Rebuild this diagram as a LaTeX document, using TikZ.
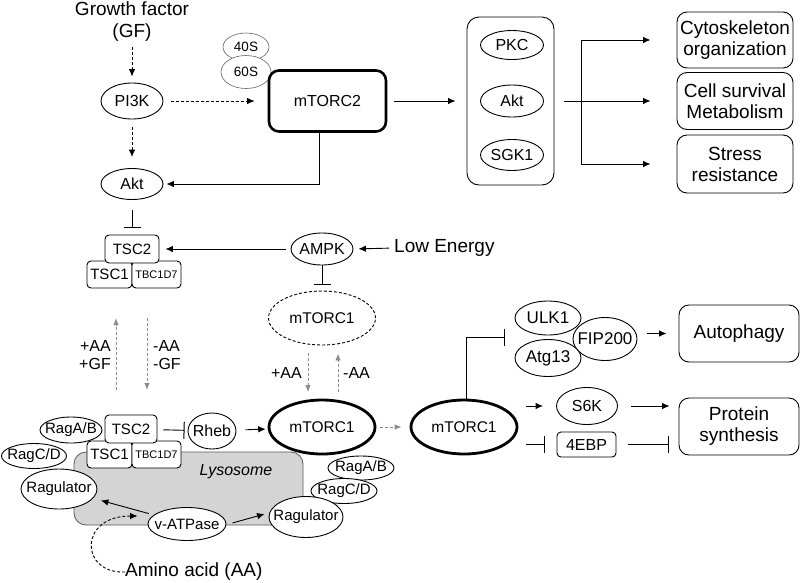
\documentclass[tikz,border=0pt]{standalone}
\usepackage{fontspec}
\setmainfont{Liberation Sans}
\usetikzlibrary{shapes.geometric,arrows.meta,calc}
\newcommand\zw[1]{\makebox[0pt]{#1}}
\definecolor{lysogray}{RGB}{212,212,212}
\definecolor{arrgray}{RGB}{140,140,140}
\begin{document}
\begin{tikzpicture}[x=1pt,y=-1pt,
  lw/.style={line width=0.9pt},
  ell/.style={ellipse,draw,line width=0.9pt,fill=white,inner sep=0pt,font=\fontsize{16}{19}\selectfont},
  ellm/.style={ell,font=\fontsize{15}{18}\selectfont},
  thk/.style={ell,line width=2.8pt,font=\fontsize{15.5}{18}\selectfont},
  smell/.style={ellipse,draw=black!60,line width=0.6pt,fill=white,inner sep=0pt,font=\fontsize{13.5}{16}\selectfont},
  rbx/.style={draw,line width=0.9pt,rounded corners=4pt,fill=white,inner sep=0pt,font=\fontsize{15}{18}\selectfont},
  bbox/.style={draw,line width=0.9pt,rounded corners=10pt,fill=white,inner sep=0pt,align=center,minimum width=116pt,font=\fontsize{19}{21}\selectfont},
  txt/.style={inner sep=0pt},
  arr/.style={line width=0.9pt,-{Latex[length=7.5pt,width=6.5pt]}},
  darr/.style={arr,dash pattern=on 3pt off 2pt},
  inh/.style={line width=0.9pt,-{Bar[width=17pt,line width=1pt]}},
  garr/.style={draw=arrgray,line width=0.9pt,dash pattern=on 3pt off 2pt,-{Latex[length=7pt,width=5.5pt]}}
]
\useasboundingbox (0,0) rectangle (800,582);

% ---------- top part ----------
\node[txt,align=center,anchor=north,font=\fontsize{19}{22}\selectfont] (gf) at (132,1.5) {Growth factor\\(GF)};
\node[ell,minimum width=62pt,minimum height=36pt] (pi3k) at (132,101) {\zw{PI3K}};
\node[ell,minimum width=62pt,minimum height=31pt] (akt1) at (132,184) {\zw{Akt}};
\node[smell,minimum width=46pt,minimum height=28pt] (s40) at (246,47) {\zw{40S}};
\node[smell,minimum width=50pt,minimum height=33pt] (s60) at (246,72) {\zw{60S}};
\node[draw,line width=2.6pt,rounded corners=10pt,fill=white,minimum width=117pt,minimum height=61pt,inner sep=0pt,font=\fontsize{16}{19}\selectfont] (m2) at (327.5,101) {mTORC2};

\node[draw,lw,rounded corners=12pt,minimum width=87pt,minimum height=168pt,inner sep=0pt] (cplx) at (510.5,101) {};
\node[ell,minimum width=63pt,minimum height=29pt] (pkc) at (512,45) {\zw{PKC}};
\node[ell,minimum width=63pt,minimum height=32pt] (akt2) at (512,101) {\zw{Akt}};
\node[ell,minimum width=63pt,minimum height=31pt] (sgk) at (512,155) {\zw{SGK1}};

\node[bbox,minimum height=56pt] (cyto) at (735,40) {Cytoskeleton\\organization};
\node[bbox,minimum height=57pt] (surv) at (735,101) {Cell survival\\Metabolism};
\node[bbox,minimum height=58pt] (stress) at (735,164) {Stress\\resistance};

\draw[darr,shorten <=5pt,shorten >=6pt] (gf) -- (pi3k);
\draw[darr,shorten <=8pt,shorten >=13pt] (pi3k) -- (m2);
\draw[darr,shorten <=8pt,shorten >=11pt] (pi3k) -- (akt1);
\draw[arr,shorten >=3pt] ([xshift=-8.5pt]m2.south) |- (akt1.east);
\draw[arr,shorten <=7pt,shorten >=11pt] (m2) -- (cplx);
\coordinate (brn) at (581,101);
\draw[arr,shorten >=26pt] ([xshift=10pt]cplx.east) -- (surv.west);
\draw[arr,shorten >=26pt] (brn) |- (cyto.west);
\draw[arr,shorten >=26pt] (brn) |- (stress.west);

% ---------- middle part ----------
\node[rbx,minimum width=45pt,minimum height=27pt] (tsc1a) at (109.5,274.5) {TSC1};
\node[rbx,minimum width=49pt,minimum height=27pt,font=\fontsize{11}{13}\selectfont] (tbca) at (156.5,274.5) {TBC1D7};
\node[rbx,minimum width=54pt,minimum height=28pt] (tsc2a) at (132,249) {TSC2};
\draw[inh,shorten <=10pt,shorten >=7pt] (akt1) -- (tsc2a);

\node[ell,minimum width=62pt,minimum height=32pt] (ampk) at (322,249) {\zw{AMPK}};
\node[txt,anchor=west,font=\fontsize{19}{22}\selectfont] (lowe) at (394,248) {Low Energy};
\draw[arr,shorten <=5pt,shorten >=5pt] (lowe.west) -- (ampk.east);
\draw[arr,shorten <=5pt,shorten >=6pt] (ampk) -- (tsc2a);

\node[ellm,dashed,dash pattern=on 3pt off 2pt,minimum width=107pt,minimum height=54pt,font=\fontsize{15.5}{18}\selectfont] (m1d) at (322,318) {\zw{mTORC1}};
\draw[inh,shorten >=6pt] (ampk) -- (m1d);

\coordinate (ga1) at (116,390);
\coordinate (ga2) at (116,318);
\coordinate (gb1) at (147,318);
\coordinate (gb2) at (147,390);
\draw[garr] (ga1) -- (ga2);
\draw[garr] (gb1) -- (gb2);
\node[txt,anchor=east,align=right,font=\fontsize{16}{18}\selectfont] (lbl1) at (111,355) {+AA\\+GF};
\node[txt,anchor=west,align=left,font=\fontsize{16}{18}\selectfont] (lbl2) at (153,355) {-AA\\-GF};

% ---------- bottom part ----------
\node[draw=black!65,line width=0.8pt,fill=lysogray,rounded corners=12pt,minimum width=229pt,minimum height=73pt,inner sep=0pt] (lyso) at (188.5,488.5) {};
\node[txt,font=\itshape\fontsize{16}{19}\selectfont] (lysot) at (236,472) {Lysosome};

\node[ellm,minimum width=65pt,minimum height=25pt] (ragcl) at (34,456) {\zw{RagC/D}};
\node[ellm,minimum width=62pt,minimum height=26pt] (ragal) at (71,430) {\zw{RagA/B}};
\node[ellm,minimum width=76pt,minimum height=40pt] (regl) at (59,489) {\zw{Ragulator}};
\node[rbx,minimum width=45pt,minimum height=27pt] (tsc1b) at (109.5,454.5) {TSC1};
\node[rbx,minimum width=49pt,minimum height=27pt,font=\fontsize{11}{13}\selectfont] (tbcb) at (156.5,454.5) {TBC1D7};
\node[rbx,minimum width=52pt,minimum height=28pt] (tsc2b) at (131,429) {TSC2};

\node[ellm,minimum width=48pt,minimum height=36pt,font=\fontsize{16}{19}\selectfont] (rheb) at (212,431) {\zw{Rheb}};
\node[thk,minimum width=106pt,minimum height=54pt] (m1) at (322,427) {\zw{mTORC1}};
\node[thk,minimum width=106pt,minimum height=54pt] (m1r) at (464,427) {\zw{mTORC1}};

\node[ellm,minimum width=66pt,minimum height=24pt] (ragar) at (361,468) {\zw{RagA/B}};
\node[ellm,minimum width=66pt,minimum height=25pt] (ragcr) at (344,491) {\zw{RagC/D}};
\node[ellm,minimum width=74pt,minimum height=41pt] (regr) at (306,517) {\zw{Ragulator}};
\node[ellm,minimum width=78pt,minimum height=33pt] (vatp) at (187,524) {\zw{v-ATPase}};

\node[txt,anchor=west,font=\fontsize{19}{22}\selectfont] (aa) at (125,572) {Amino acid (AA)};

\draw[inh,shorten <=6pt,shorten >=3pt] (tsc2b) -- (rheb);
\draw[arr,shorten <=9pt,shorten >=2pt] (rheb) -- (m1);
\draw[garr,shorten <=4pt,shorten >=8pt] (m1) -- (m1r);
\draw[garr,shorten >=6.5pt] ([xshift=-14pt,yshift=-8pt]m1d.south) -- ([xshift=-14pt]m1.north);
\draw[garr,shorten <=6.5pt,shorten >=8pt] ([xshift=16pt]m1.north) -- ([xshift=16pt]m1d.south);
\node[txt,anchor=east,font=\fontsize{16}{18}\selectfont] (lbl3) at (302,373) {+AA};
\node[txt,anchor=west,font=\fontsize{16}{18}\selectfont] (lbl4) at (343,373) {-AA};

\draw[arr,shorten <=5pt,shorten >=8pt] (vatp) -- (regl);
\draw[arr] ([shift={(6pt,1pt)}]vatp.east) -- ([shift={(-4pt,3pt)}]regr.west);
\draw[arr,dash pattern=on 3pt off 2pt] (aa.west) .. controls (80,574) and (78,516) .. ([shift={(-10pt,8pt)}]vatp.west);

% ---------- right part ----------
\node[ell,font=\fontsize{17}{20}\selectfont,minimum width=64pt,minimum height=43pt] (fip) at (605,339) {\zw{FIP200}};
\node[ell,font=\fontsize{17}{20}\selectfont,minimum width=66pt,minimum height=34pt] (ulk) at (548,318) {\zw{ULK1}};
\node[ell,font=\fontsize{17}{20}\selectfont,minimum width=66pt,minimum height=37pt] (atg) at (548,358) {\zw{Atg13}};
\node[bbox,minimum width=120pt,minimum height=57pt] (auto) at (739,333.5) {Autophagy};
\node[ell,minimum width=61pt,minimum height=37pt] (s6k) at (587,406) {\zw{S6K}};
\node[rbx,font=\fontsize{16}{19}\selectfont,minimum width=59pt,minimum height=25pt] (ebp) at (586.5,444.5) {4EBP};
\node[bbox,minimum width=120pt,minimum height=57pt] (prot) at (739,426.5) {Protein\\synthesis};

\coordinate (ulkbar) at (505,337);
\draw[inh] ([xshift=2pt]m1r.north) |- (ulkbar);
\draw[arr,shorten <=10pt,shorten >=12pt] (fip.east |- auto.west) -- (auto.west);
\draw[arr,shorten <=8pt,shorten >=13pt] (m1r.east |- s6k.west) -- (s6k.west);
\draw[inh,shorten <=8pt,shorten >=12pt] (m1r.east |- ebp.west) -- (ebp.west);
\draw[arr,shorten <=13pt,shorten >=9pt] (s6k.east) -- (s6k.east -| prot.west);
\draw[inh,shorten <=12pt,shorten >=10pt] (ebp.east) -- (ebp.east -| prot.west);
\end{tikzpicture}
\end{document}
